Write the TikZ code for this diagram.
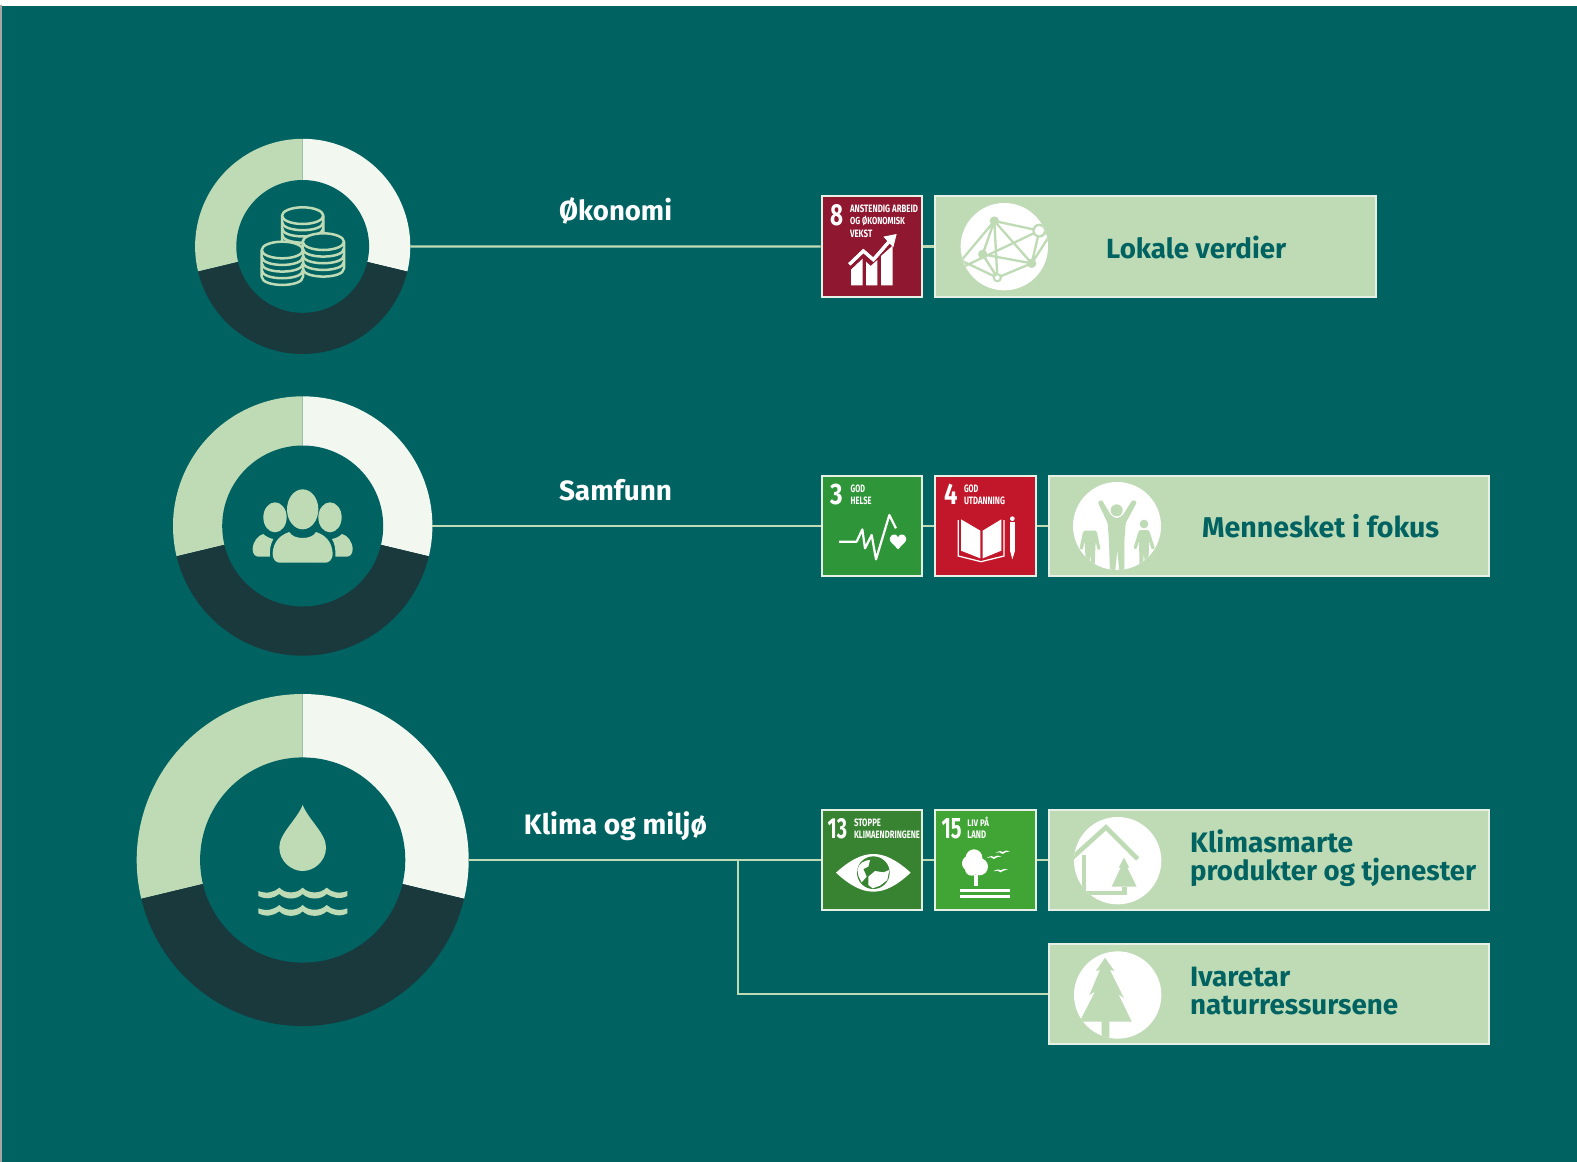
\documentclass[tikz,border=0pt]{standalone}
\usepackage{graphicx}
\usepackage{fontspec}
\setmainfont{Fira Sans}
\definecolor{bgteal}{HTML}{006362}
\definecolor{lgreen}{HTML}{BEDBB5}
\definecolor{offwhite}{HTML}{F2F7EF}
\definecolor{ringdark}{HTML}{19393D}
\definecolor{rim}{HTML}{E6F0E4}
\definecolor{sdgeight}{HTML}{8F1830}
\definecolor{sdgthree}{HTML}{2E9639}
\definecolor{sdgfour}{HTML}{C2172A}
\definecolor{sdgthirteen}{HTML}{388331}
\definecolor{sdgfifteen}{HTML}{40A535}
\tikzset{
  sdgbox/.style={draw=rim,line width=2pt,inner sep=0pt,minimum width=100.6pt,minimum height=100.5pt},
  goalbox/.style={draw=rim,line width=2pt,fill=lgreen,inner sep=0pt,minimum height=100.5pt},
  ringnode/.style={circle,inner sep=0pt,outer sep=0pt},
  conn/.style={draw=lgreen,line width=2.3pt},
  head/.style={text=white,inner sep=0pt,anchor=base,font=\bfseries},
  goal/.style={text=bgteal,inner sep=0pt,anchor=base west,font=\bfseries},
  sdgtext/.style={text=white,inner sep=0pt,outer sep=0pt,anchor=base west},
  zoomA/.style={shift={(800,180)},x=0.33333pt,y=-0.33333pt},
  zoomB/.style={shift={(800,460)},x=0.33333pt,y=-0.33333pt},
  zoomC/.style={shift={(800,795)},x=0.33333pt,y=-0.33333pt},
  coinline/.style={draw=lgreen,line width=2.5pt,line join=round},
}
\newcommand\ringat[4]{%
  \begin{scope}[shift={(#1,#2)},x=1pt,y=1pt]
    \fill[offwhite] (0,0) -- (90:#3) arc[start angle=90,end angle=-13.5,radius=#3] -- cycle;
    \fill[lgreen] (0,0) -- (90:#3) arc[start angle=90,end angle=193.5,radius=#3] -- cycle;
    \fill[ringdark] (0,0) -- (193.5:#3) arc[start angle=193.5,end angle=346.5,radius=#3] -- cycle;
    \fill[bgteal] (0,0) circle[radius=#4];
  \end{scope}}
\newcommand\stx[5]{\node[sdgtext] (#1) at (#2) {\resizebox{#3pt}{#4pt}{#5}};}
\newcommand\coinstack[3]{%
  \fill[bgteal] (#1-62,#2) -- (#1-62,#2+#3) .. controls (#1-62,#2+#3+33) and (#1+62,#2+#3+33) .. (#1+62,#2+#3) -- (#1+62,#2) -- cycle;
  \draw[coinline,fill=bgteal] (#1,#2) ellipse[x radius=62,y radius=25];
  \draw[coinline] (#1-62,#2) -- (#1-62,#2+#3) .. controls (#1-62,#2+#3+33) and (#1+62,#2+#3+33) .. (#1+62,#2+#3) -- (#1+62,#2);
  \foreach \k in {1,2,3}{\draw[coinline] (#1-62,#2+\k*#3/4) .. controls (#1-62,#2+\k*#3/4+33) and (#1+62,#2+\k*#3/4+33) .. (#1+62,#2+\k*#3/4);}
}
\begin{document}
\begin{tikzpicture}[x=1pt,y=-1pt]
\useasboundingbox (0,0) rectangle (1577,1162);
\fill[white] (0,0) rectangle (1577,1162);
\fill[gray!70] (0,5) rectangle (1.6,1162);
\fill[bgteal] (1.6,5.5) rectangle (1577,1162);

% rings
\ringat{302.7}{246.4}{107.6}{66.4}
\ringat{302.7}{526}{129.7}{80.5}
\ringat{302.7}{860}{166}{102.6}
\node[ringnode,minimum size=215.2pt] (ringa) at (302.7,246.4) {};
\node[ringnode,minimum size=259.4pt] (ringb) at (302.7,526) {};
\node[ringnode,minimum size=332pt] (ringc) at (302.7,860) {};

% boxes
\node[sdgbox,fill=sdgeight] (eight) at (872,246.5) {};
\node[goalbox,minimum width=440.5pt] (lokale) at (1155.5,246.5) {};
\node[sdgbox,fill=sdgthree] (three) at (872,526) {};
\node[sdgbox,fill=sdgfour] (four) at (985.5,526) {};
\node[goalbox,minimum width=440.5pt] (menn) at (1268.8,526) {};
\node[sdgbox,fill=sdgthirteen] (thirteen) at (872,860) {};
\node[sdgbox,fill=sdgfifteen] (fifteen) at (985.5,860) {};
\node[goalbox,minimum width=440.5pt] (klima) at (1268.8,860) {};
\node[goalbox,minimum width=440.5pt] (ivar) at (1268.8,994) {};

% connectors
\draw[conn] (ringa.east) -- (eight.west);
\draw[conn] (eight.east) -- (lokale.west);
\draw[conn] (ringb.east) -- (three.west);
\draw[conn] (three.east) -- (four.west);
\draw[conn] (four.east) -- (menn.west);
\draw[conn] (ringc.east) -- (thirteen.west);
\draw[conn] (thirteen.east) -- (fifteen.west);
\draw[conn] (fifteen.east) -- (klima.west);
\coordinate (junc) at (738,860);
\draw[conn] (junc) |- (ivar.west);

% labels
\node[head] (lokon) at (615.5,220.3) {\resizebox{113pt}{!}{Økonomi}};
\node[head] (lsam) at (615.5,500.3) {\resizebox{113pt}{!}{Samfunn}};
\node[head] (lkli) at (615.5,834.3) {\resizebox{183pt}{!}{Klima og miljø}};
\node[goal] (tlok) at (1106,258.3) {\resizebox{180pt}{!}{Lokale verdier}};
\node[goal] (tmen) at (1202,537.3) {\resizebox{237pt}{!}{Mennesket i fokus}};
\node[goal] (tkl) at (1190,852.6) {\resizebox{163pt}{!}{Klimasmarte}};
\node[goal] (tpr) at (1190,880.6) {\resizebox{286pt}{!}{produkter og tjenester}};
\node[goal] (tiv) at (1190,986.3) {\resizebox{100pt}{!}{Ivaretar}};
\node[goal] (tna) at (1190,1014.6) {\resizebox{208pt}{!}{naturressursene}};

% coins
\begin{scope}[shift={(230,190)},x=0.33333pt,y=-0.33333pt]
  \coinstack{218}{77}{75}
  \coinstack{280}{155}{80}
  \coinstack{157}{180}{80}
\end{scope}

% people
\begin{scope}[shift={(230,470)},x=0.33333pt,y=-0.33333pt]
  \fill[lgreen] (218,118) ellipse[x radius=47,y radius=60];
  \fill[lgreen] (135,142) ellipse[x radius=35,y radius=45];
  \fill[lgreen] (300,142) ellipse[x radius=35,y radius=45];
  \fill[lgreen] (128,250) .. controls (130,215) and (150,195) .. (178,186) .. controls (190,210) and (246,210) .. (258,186) .. controls (286,195) and (306,215) .. (308,250) .. controls (308,272) and (295,278) .. (285,278) -- (150,278) .. controls (140,278) and (128,272) .. (128,250) -- cycle;
  \fill[lgreen] (68,238) .. controls (68,215) and (85,195) .. (100,192) .. controls (108,200) and (120,205) .. (130,207) .. controls (122,220) and (118,240) .. (120,260) -- (85,260) .. controls (75,260) and (68,250) .. (68,238) -- cycle;
  \fill[lgreen] (368,238) .. controls (368,215) and (351,195) .. (336,192) .. controls (328,200) and (316,205) .. (306,207) .. controls (314,220) and (318,240) .. (316,260) -- (351,260) .. controls (361,260) and (368,250) .. (368,238) -- cycle;
\end{scope}

% drop and waves
\begin{scope}[shift={(240,790)},x=0.33333pt,y=-0.33333pt]
  \fill[lgreen] (188,45) .. controls (170,90) and (118,130) .. (118,172) .. controls (118,215) and (155,243) .. (188,243) .. controls (221,243) and (258,215) .. (258,172) .. controls (258,130) and (206,90) .. (188,45) -- cycle;
  \foreach \w in {0,52}{
    \fill[lgreen] (55,303+\w) .. controls (80,312+\w) and (100,308+\w) .. (118,293+\w) .. controls (136,312+\w) and (170,312+\w) .. (188,293+\w) .. controls (206,312+\w) and (242,312+\w) .. (260,293+\w) .. controls (276,308+\w) and (298,312+\w) .. (322,303+\w) -- (322,318+\w) .. controls (298,330+\w) and (276,322+\w) .. (260,312+\w) .. controls (242,330+\w) and (206,330+\w) .. (188,312+\w) .. controls (170,330+\w) and (136,330+\w) .. (118,312+\w) .. controls (100,325+\w) and (80,330+\w) .. (55,318+\w) -- cycle;
  }
\end{scope}

% goal 8 tile and network
\begin{scope}[zoomA]
  \stx{ne}{90,135}{13}{21}{\bfseries 8}
  \stx{nea}{150,98}{68}{7.6}{\bfseries ANSTENDIG ARBEID}
  \stx{neb}{150,134}{55}{8.4}{\bfseries OG ØKONOMISK}
  \stx{nec}{150,171}{22.3}{7.6}{\bfseries VEKST}
  \fill[white] (153,316) -- (153,268) -- (188,235) -- (188,316) -- cycle;
  \fill[white] (198,316) -- (198,245) -- (212,258) -- (232,240) -- (232,316) -- cycle;
  \fill[white] (243,316) -- (243,228) -- (278,197) -- (278,316) -- cycle;
  \draw[white,line width=3.2pt] (148,253) -- (190,213) -- (220,239) -- (268,184);
  \fill[sdgeight] (153,268) -- (188,235) -- (190,226) -- (150,262) -- cycle;
  \draw[white,line width=3.2pt] (148,253) -- (190,213) -- (220,239) -- (268,184);
  \fill[white] (250,170) -- (290,162) -- (280,202) -- cycle;
  \fill[white] (613,200) circle[radius=131];
  \begin{scope}
    \clip (613,200) circle[radius=131];
    \draw[lgreen,line width=2.3pt]
      (583,123) -- (718,152) (583,123) -- (548,223) (583,123) -- (592,293)
      (583,123) -- (695,250) (583,123) -- (485,240) (718,152) -- (480,265)
      (718,152) -- (695,250) (718,152) -- (750,165) (548,223) -- (592,293)
      (548,223) -- (695,250) (592,293) -- (695,250) (592,293) -- (480,240)
      (695,250) -- (750,165);
    \fill[lgreen] (583,123) circle[radius=14];
    \fill[lgreen] (548,223) circle[radius=14];
    \fill[lgreen] (695,250) circle[radius=14];
    \fill[lgreen] (718,152) circle[radius=21];
    \fill[white] (718,152) circle[radius=14];
    \fill[lgreen] (592,293) circle[radius=14];
    \fill[white] (592,293) circle[radius=7];
  \end{scope}
\end{scope}

% goals 3, 4
\begin{scope}[zoomB]
  \stx{tha}{90,133}{12.5}{20.5}{\bfseries 3}
  \stx{thb}{152,97}{14.3}{7.6}{\bfseries GOD}
  \stx{thc}{152,133}{21}{7.6}{\bfseries HELSE}
  \draw[white,line width=2.2pt,line join=round] (117,245) -- (170,245) -- (187,208) -- (195,265) -- (215,225) -- (228,298) -- (268,165) -- (288,205);
  \fill[white] (294,268) -- (272,245) .. controls (262,228) and (285,213) .. (294,232) .. controls (303,213) and (326,228) .. (316,245) -- cycle;
  \stx{foa}{432,133}{13.5}{20.5}{\bfseries 4}
  \stx{fob}{492,97}{14.3}{7.6}{\bfseries GOD}
  \stx{foc}{492,133}{41}{7.6}{\bfseries UTDANNING}
  \draw[white,line width=1.3pt] (475,180) -- (475,288) -- (543,305) -- (612,288) -- (612,180);
  \fill[white] (483,178) -- (541,212) -- (541,295) -- (483,272) -- cycle;
  \fill[white] (548,212) -- (604,178) -- (604,272) -- (548,295) -- cycle;
  \fill[white] (637,176) circle[radius=7];
  \fill[white] (630,186) rectangle (645,272);
  \fill[white] (630,272) -- (645,272) -- (637,298) -- cycle;
\end{scope}

% people in circle
\begin{scope}[shift={(1065,478)},x=0.33333pt,y=-0.33333pt]
  \fill[white] (156,144) circle[radius=132];
  \begin{scope}
    \clip (156,144) circle[radius=132];
    \fill[lgreen,rounded corners=1.5pt] (98,72) -- (110,65) -- (138,112) -- (155,122) -- (173,112) -- (203,65) -- (216,72) -- (182,135) -- (178,190) -- (178,285) -- (163,285) -- (157,215) -- (150,285) -- (135,285) -- (132,190) -- (128,135) -- cycle;
    \fill[lgreen] (155,97) circle[radius=18];
    \fill[lgreen,rounded corners=1.5pt] (55,158) -- (95,158) -- (107,215) -- (98,217) -- (92,190) -- (90,235) -- (88,285) -- (78,285) -- (76,222) -- (72,285) -- (62,285) -- (60,190) -- (52,217) -- (43,213) -- cycle;
    \fill[lgreen] (237,138) circle[radius=13];
    \fill[lgreen,rounded corners=1.5pt] (222,156) -- (252,156) -- (270,212) -- (260,215) -- (252,188) -- (250,285) -- (240,285) -- (237,222) -- (232,285) -- (224,285) -- (222,188) -- (214,215) -- (205,212) -- cycle;
  \end{scope}
\end{scope}

% goals 13, 15, house, tree
\begin{scope}[zoomC]
  \stx{tra}{83,130}{19.5}{20}{\bfseries 13}
  \stx{trb}{162,94}{27}{7.6}{\bfseries STOPPE}
  \stx{trc}{162,130}{66}{7.6}{\bfseries KLIMAENDRINGENE}
  \fill[white] (108,233) .. controls (150,195) and (185,177) .. (220,177) .. controls (255,177) and (290,195) .. (332,233) .. controls (290,272) and (255,290) .. (220,290) .. controls (185,290) and (150,272) .. (108,233) -- cycle;
  \fill[sdgthirteen] (220,233) circle[radius=49];
  \fill[white] (172,225) .. controls (175,205) and (195,195) .. (210,195) -- (205,215) -- (190,222) -- (200,245) -- (185,262) -- (176,245) -- cycle;
  \fill[white] (205,245) -- (225,228) -- (250,232) -- (268,225) -- (262,255) -- (240,272) -- (218,280) -- (205,270) -- cycle;
  \stx{fia}{425,130}{20}{20}{\bfseries 15}
  \stx{fib}{502,93}{21.7}{9.4}{\bfseries LIV PÅ}
  \stx{fic}{502,129}{18.7}{7.6}{\bfseries LAND}
  \fill[white] (522,188) circle[radius=25];
  \fill[white] (510,205) circle[radius=24];
  \fill[white] (538,215) circle[radius=26];
  \fill[white] (515,222) circle[radius=20];
  \fill[white] (521,240) rectangle (533,272);
  \fill[white] (481,281) rectangle (631,292);
  \fill[white] (481,299) rectangle (631,309);
  \foreach \bx/\by in {582/185,608/170,602/225}{
    \fill[white] (\bx-22,\by+4) .. controls (\bx-10,\by-4) and (\bx-2,\by-2) .. (\bx,\by+1) .. controls (\bx+6,\by-5) and (\bx+14,\by-4) .. (\bx+22,\by-1) .. controls (\bx+12,\by) and (\bx+5,\by+2) .. (\bx,\by+7) .. controls (\bx-5,\by+1) and (\bx-12,\by+1) .. (\bx-22,\by+4) -- cycle;
  }
  \fill[white] (953,197) circle[radius=131];
  \begin{scope}
    \clip (953,197) circle[radius=131];
    \draw[lgreen,line width=4.6pt] (815,190) -- (918,97) -- (1013,192);
    \fill[lgreen] (845,180) rectangle (859,300);
    \fill[lgreen] (845,288) rectangle (980,300);
    \fill[lgreen] (972,188) -- (988,218) -- (982,218) -- (1010,275) -- (935,275) -- (962,218) -- (956,218) -- cycle;
    \fill[lgreen] (966,275) rectangle (980,300);
  \end{scope}
  \fill[white] (953,600) circle[radius=131];
  \begin{scope}
    \clip (953,600) circle[radius=131];
    \fill[lgreen] (915,488) -- (943,528) -- (930,525) -- (972,610) -- (955,597) -- (995,680) -- (928,680) -- (928,740) -- (905,740) -- (905,680) -- (850,680) -- (843,672) -- (885,590) -- (868,600) -- (900,525) -- (888,528) -- cycle;
  \end{scope}
\end{scope}
\end{tikzpicture}
\end{document}
